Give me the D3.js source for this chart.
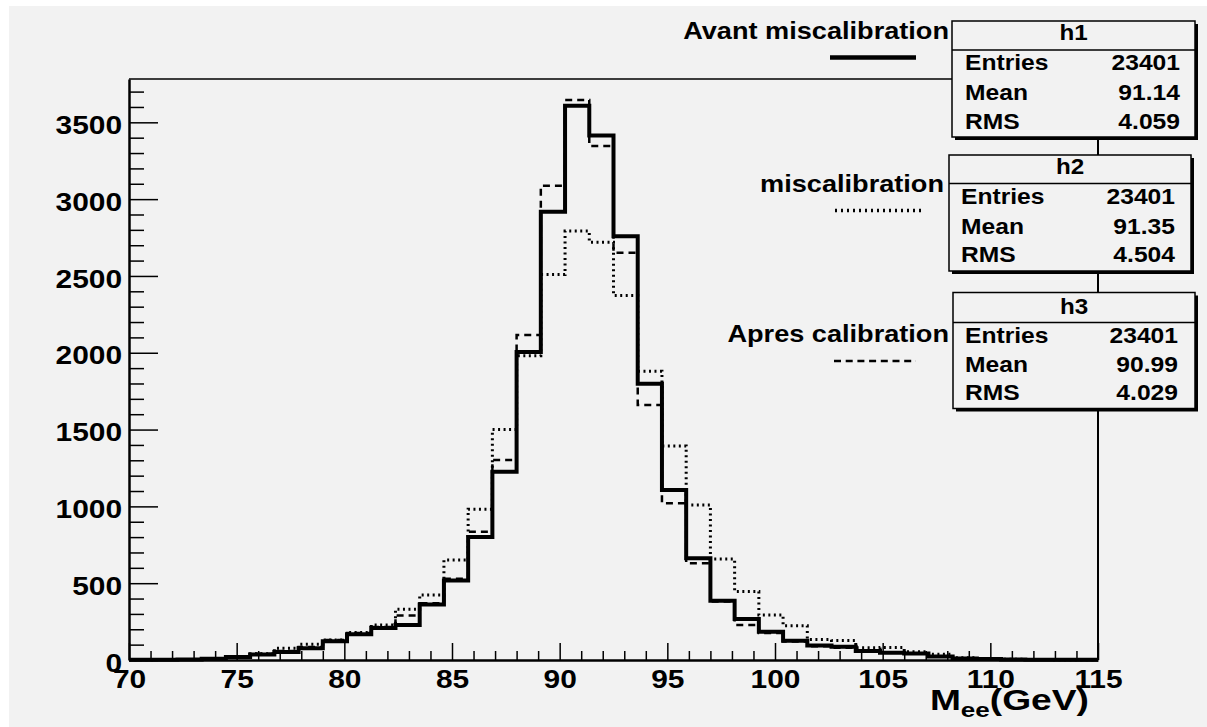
<!DOCTYPE html>
<html>
<head>
<meta charset="utf-8">
<script src="https://cdn.jsdelivr.net/npm/d3@7"></script>
<style>
  html, body { margin: 0; padding: 0; background: #ffffff; }
  svg { display: block; }
  text { font-family: "Liberation Sans", Arial, Helvetica, sans-serif; font-weight: bold; fill: #000; }
</style>
</head>
<body>
<script>
// ---------------- DATA ----------------
// low edges of the 40 bins (GeV); last upper edge = 115
const binLow = [70, 71.125, 72.25, 73.375, 74.5, 75.625, 76.75, 77.875, 79, 80.125,
  81.25, 82.375, 83.5, 84.625, 85.75, 86.875, 88, 89.125, 90.25, 91.375,
  92.5, 93.625, 94.75, 95.875, 97, 98.125, 99.25, 100.375, 101.5, 102.625,
  103.75, 104.875, 106, 107.125, 108.25, 109.375, 110.5, 111.625, 112.75, 113.875];
const binHigh = 115;

// h1 : "Avant miscalibration" (solid)
const h1Values = [1, 2, 4, 8, 20, 35, 52, 76, 122, 168,
  208, 228, 362, 518, 800, 1226, 2005, 2918, 3608, 3415,
  2758, 1798, 1107, 662, 386, 267, 184, 125, 95, 86,
  59, 48, 42, 22, 10, 6, 4, 2, 1, 1];
// h2 : "miscalibration" (dotted)
const h2Values = [1, 3, 4, 8, 17, 40, 76, 103, 130, 179,
  228, 330, 423, 651, 981, 1501, 1981, 2510, 2792, 2719,
  2372, 1879, 1393, 1009, 657, 446, 293, 223, 134, 127,
  80, 82, 54, 37, 14, 8, 5, 3, 2, 1];
// h3 : "Apres calibration" (dashed)
const h3Values = [1, 3, 5, 9, 22, 40, 58, 85, 130, 175,
  215, 290, 369, 529, 835, 1302, 2115, 3087, 3645, 3346,
  2651, 1660, 1020, 629, 380, 228, 175, 120, 90, 80,
  58, 48, 40, 22, 10, 6, 4, 2, 1, 1];

const xMajorTicks = [70, 75, 80, 85, 90, 95, 100, 105, 110, 115];
const yMajorTicks = [0, 500, 1000, 1500, 2000, 2500, 3000, 3500];
const yMax = 3782;

const histNames = ["h1", "h2", "h3"];
const legendLabels = ["Avant miscalibration", "miscalibration", "Apres calibration"];
const statLabels = ["Entries", "Mean", "RMS"];
const statEntries = ["23401", "23401", "23401"];
const statMean = ["91.14", "91.35", "90.99"];
const statRMS = ["4.059", "4.504", "4.029"];

// ---------------- LAYOUT ----------------
const W = 1207, H = 727;
const frame = { left: 129, right: 1098, top: 79, bottom: 660 };

const svg = d3.select("body").append("svg").attr("width", W).attr("height", H);

svg.append("rect").attr("x", 9).attr("y", 6).attr("width", W - 9).attr("height", H - 6)
  .attr("fill", "#f2f2f2");

const x = d3.scaleLinear().domain([binLow[0], binHigh]).range([frame.left, frame.right]);
const y = d3.scaleLinear().domain([0, yMax]).range([frame.bottom, frame.top]);

// helper for horizontally widened text
function wtext(g, px, py, str, size, kx, anchor) {
  return g.append("text")
    .attr("transform", `translate(${px},${py}) scale(${kx},1)`)
    .attr("text-anchor", anchor || "start")
    .style("font-size", size + "px")
    .text(str);
}

// frame (top and right)
svg.append("line").attr("x1", x(binLow[0])).attr("x2", x(binHigh))
  .attr("y1", y(yMax)).attr("y2", y(yMax)).attr("stroke", "#000").attr("stroke-width", 1.5);
svg.append("line").attr("x1", x(binHigh)).attr("x2", x(binHigh))
  .attr("y1", y(yMax)).attr("y2", y(0)).attr("stroke", "#000").attr("stroke-width", 2);

// ---------------- HISTOGRAMS ----------------
const stepLine = d3.line().x(d => x(d[0])).y(d => y(d[1])).curve(d3.curveStepAfter);
function pts(vals) {
  return binLow.map((e, i) => [e, vals[i]]).concat([[binHigh, vals[vals.length - 1]]]);
}
const histStyles = [
  { vals: h1Values, width: 4, dash: null },
  { vals: h2Values, width: 3, dash: "2,3.5" },
  { vals: h3Values, width: 2.5, dash: "7,5" }
];
histStyles.forEach(s => {
  svg.append("path").attr("d", stepLine(pts(s.vals)))
    .attr("fill", "none").attr("stroke", "#000")
    .attr("stroke-width", s.width)
    .attr("stroke-dasharray", s.dash)
    .attr("stroke-linejoin", "miter");
});

// ---------------- AXES ----------------
const kAxis = 1.15;
// X minor
const xMinor = d3.range(70, 116, 1).filter(v => v % 5 !== 0);
svg.append("g").attr("transform", `translate(0,${frame.bottom})`)
  .call(d3.axisBottom(x).tickValues(xMinor).tickSizeInner(-9).tickSizeOuter(0).tickFormat(""))
  .call(g => g.select(".domain").remove())
  .call(g => g.selectAll("line").attr("stroke", "#000").attr("stroke-width", 1.5));
// X major
const gx = svg.append("g").attr("transform", `translate(0,${frame.bottom})`)
  .call(d3.axisBottom(x).tickValues(xMajorTicks).tickSizeInner(-17).tickSizeOuter(0).tickFormat(d3.format("d")));
gx.select(".domain").attr("stroke", "#000").attr("stroke-width", 2.5);
gx.selectAll("line").attr("stroke", "#000").attr("stroke-width", 1.5);
gx.selectAll("text").attr("y", 28).attr("dy", null).attr("fill", "#000")
  .style("font-size", "26px").attr("font-family", null)
  .attr("transform", `scale(${kAxis},1)`);

// Y minor
const yMinor = d3.range(100, 3800, 100).filter(v => v % 500 !== 0);
svg.append("g").attr("transform", `translate(${frame.left},0)`)
  .call(d3.axisLeft(y).tickValues(yMinor).tickSizeInner(-15).tickSizeOuter(0).tickFormat(""))
  .call(g => g.select(".domain").remove())
  .call(g => g.selectAll("line").attr("stroke", "#000").attr("stroke-width", 1.5));
// Y major
const gy = svg.append("g").attr("transform", `translate(${frame.left},0)`)
  .call(d3.axisLeft(y).tickValues(yMajorTicks).tickSizeInner(-29).tickSizeOuter(0).tickFormat(d3.format("d")));
gy.select(".domain").attr("stroke", "#000").attr("stroke-width", 2.5);
gy.selectAll("line").attr("stroke", "#000").attr("stroke-width", 1.5);
gy.selectAll("text").attr("x", -7 / kAxis).attr("dy", "0.43em").attr("fill", "#000")
  .style("font-size", "26px").attr("font-family", null)
  .attr("transform", `scale(${kAxis},1)`);

// X axis title M_ee(GeV)
const title = svg.append("text")
  .attr("transform", `translate(1089,710) scale(1.24,1)`)
  .attr("text-anchor", "end").style("font-size", "30px");
title.append("tspan").text("M");
title.append("tspan").attr("dy", 7).style("font-size", "21px").text("ee");
title.append("tspan").attr("dy", -7).text("(GeV)");

// ---------------- LEGEND ----------------
const legendLayout = [
  { tx: 949, ty: 39, lx1: 830, lx2: 916, ly: 57.5 },
  { tx: 944, ty: 191.5, lx1: 835, lx2: 921, ly: 210.5 },
  { tx: 949, ty: 341.5, lx1: 834, lx2: 916, ly: 361 }
];
const legendStroke = [
  { width: 4.5, dash: null },
  { width: 3.5, dash: "2,4" },
  { width: 2.5, dash: "7,4.7" }
];
legendLabels.forEach((lab, i) => {
  const L = legendLayout[i];
  wtext(svg, L.tx, L.ty, lab, 23, 1.18, "end");
  svg.append("line").attr("x1", L.lx1).attr("x2", L.lx2).attr("y1", L.ly).attr("y2", L.ly)
    .attr("stroke", "#000").attr("stroke-width", legendStroke[i].width)
    .attr("stroke-dasharray", legendStroke[i].dash);
});

// ---------------- STATS BOXES ----------------
const boxLayout = [
  { x0: 952, x1: 1195, y0: 21, y1: 137, div: 50, tb: 39.5, lx: 965, vx: 1180, rows: [70, 100, 128.5] },
  { x0: 949, x1: 1191, y0: 155, y1: 271, div: 183.5, tb: 173.5, lx: 961, vx: 1175, rows: [203.5, 233.5, 262] },
  { x0: 953, x1: 1195, y0: 292.5, y1: 408.5, div: 322.5, tb: 313.5, lx: 965, vx: 1178, rows: [342.5, 371.5, 400] }
];
histNames.forEach((nm, i) => {
  const B = boxLayout[i];
  const g = svg.append("g");
  // shadow
  g.append("rect").attr("x", B.x0 + 3).attr("y", B.y0 + 3)
    .attr("width", B.x1 - B.x0).attr("height", B.y1 - B.y0).attr("fill", "#000");
  g.append("rect").attr("x", B.x0).attr("y", B.y0)
    .attr("width", B.x1 - B.x0).attr("height", B.y1 - B.y0)
    .attr("fill", "#f2f2f2").attr("stroke", "#000").attr("stroke-width", 1.5);
  g.append("line").attr("x1", B.x0).attr("x2", B.x1).attr("y1", B.div).attr("y2", B.div)
    .attr("stroke", "#000").attr("stroke-width", 1.5);
  wtext(g, (B.x0 + B.x1) / 2, B.tb, nm, 22, 1.1, "middle");
  const vals = [statEntries[i], statMean[i], statRMS[i]];
  statLabels.forEach((lab, r) => {
    wtext(g, B.lx, B.rows[r], lab, 22, 1.12, "start");
    wtext(g, B.vx, B.rows[r], vals[r], 22, 1.12, "end");
  });
});
</script>
</body>
</html>
